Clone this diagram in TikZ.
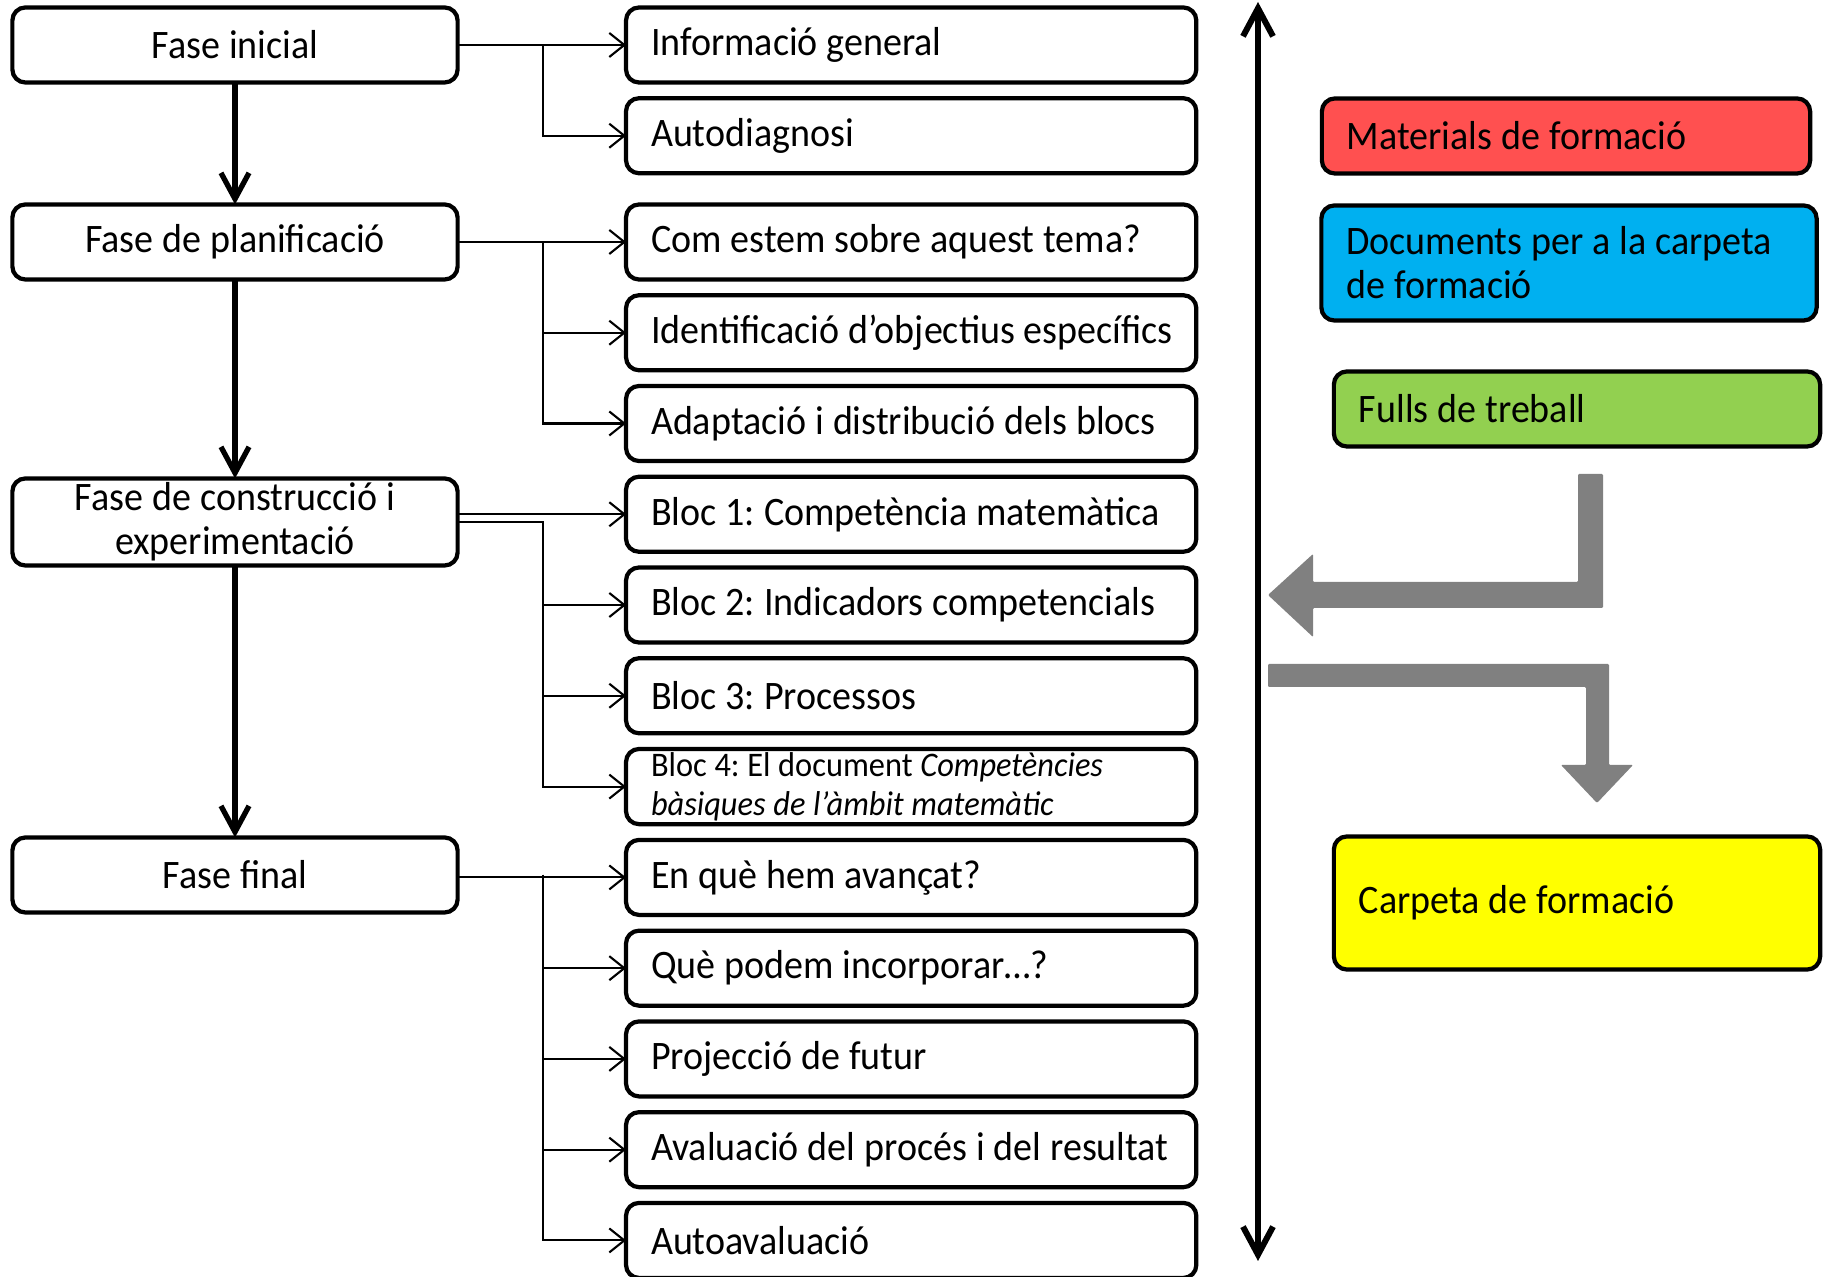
\documentclass[tikz,border=0pt]{standalone}
\usepackage{fontspec}
\setmainfont{Carlito}[FakeStretch=0.94, WordSpace=1.05]
\usepackage{tikz}
\usetikzlibrary{positioning, arrows.meta}
\definecolor{matred}{HTML}{FF5050}
\definecolor{docblue}{HTML}{00B0F0}
\definecolor{fullgreen}{HTML}{92D050}
\definecolor{carpyellow}{HTML}{FFFF00}
\definecolor{flowgrey}{HTML}{808080}
\frenchspacing
\tikzset{
  phase/.style={rectangle, rounded corners=1.3mm, draw, line width=1.2pt, outer sep=0pt, minimum width=4.45cm, minimum height=0.75cm, align=center, inner sep=1pt},
  task/.style={rectangle, rounded corners=1.3mm, draw, line width=1.2pt, outer sep=0pt, text width=5.2cm, inner xsep=0.25cm, inner ysep=1pt, minimum height=0.75cm, align=flush left},
  resource/.style={rectangle, rounded corners=1.3mm, draw, line width=1.2pt, outer sep=0pt, inner xsep=0.25cm, align=flush left},
  link/.style={-{Straight Barb[length=1.5mm, width=2.4mm]}, line width=0.6pt},
  flow/.style={-{Straight Barb[length=2.6mm, width=2.8mm]}, line width=1.5pt},
}

\begin{document}
\begin{tikzpicture}[x=0.01cm, y=-0.01cm, node distance=1.57mm, font=\fontsize{11.5}{12.5}\selectfont]
  \useasboundingbox (0,0) rectangle (1827,1277);

  % Phases
  \node[phase] (init) at (235,45) {Fase inicial};
  \node[phase] (plan) at (235,242) {Fase de planificació};
  \node[phase, minimum height=0.87cm] (constr) at (235,522) {Fase de construcció i\\experimentació};
  \node[phase] (final) at (235,875) {Fase final};

  % Tasks
  \node[task, anchor=west] (info) at (626,45) {Informació general};
  \node[task, below=of info] (autod) {Autodiagnosi};
  \node[task, anchor=west] (com) at (626,242) {Com estem sobre aquest tema?};
  \node[task, below=of com] (ident) {\mbox{Identificació d’objectius específics}};
  \node[task, below=of ident] (adapt) {Adaptació i distribució dels blocs};
  \node[task, below=of adapt] (bloc1) {Bloc 1: Competència matemàtica};
  \node[task, below=of bloc1] (bloc2) {Bloc 2: Indicadors competencials};
  \node[task, below=of bloc2] (bloc3) {Bloc 3: Processos};
  \node[task, below=of bloc3, font=\fontsize{9.8}{11}\selectfont] (bloc4) {Bloc 4: El document \textit{Competències}\\\textit{bàsiques de l’àmbit matemàtic}};
  \node[task, below=of bloc4] (enque) {En què hem avançat?};
  \node[task, below=of enque] (quepod) {Què podem incorporar…?};
  \node[task, below=of quepod] (proj) {Projecció de futur};
  \node[task, below=of proj] (aval) {\mbox{Avaluació del procés i del resultat}};
  \node[task, below=of aval] (autoav) {Autoavaluació};

  % Resources
  \node[resource, fill=matred, text width=4.38cm, minimum height=0.75cm] (mat) at (1566,136) {Materials de formació};
  \node[resource, fill=docblue, text width=4.45cm, minimum height=1.15cm] (docs) at (1569,263) {Documents per a la carpeta\\de formació};
  \node[resource, fill=fullgreen, text width=4.36cm, minimum height=0.75cm] (fulls) at (1577,409) {Fulls de treball};
  \node[resource, fill=carpyellow, text width=4.36cm, minimum height=1.33cm] (carp) at (1577,903) {Carpeta de formació};

  % Phase to phase
  \draw[flow] (init) -- (plan);
  \draw[flow] (plan) -- (constr);
  \draw[flow] (constr) -- (final);

  % Phases to tasks
  \coordinate (br) at (543,0);
  \draw[link] (init.east) -- (init.east -| info.west);
  \draw[link] (init.east -| br) |- (autod.west);
  \draw[link] (plan.east) -- (plan.east -| com.west);
  \draw[link] (plan.east -| br) |- (ident.west);
  \draw[link] (plan.east -| br) |- (adapt.west);
  \draw[link] (constr.east |- bloc1.west) -- (bloc1.west);
  \draw[link] (constr.east) -- (constr.east -| br) |- (bloc2.west);
  \draw[link] (constr.east -| br) |- (bloc3.west);
  \draw[link] (constr.east -| br) |- (bloc4.west);
  \draw[link] (final.east |- enque.west) -- (enque.west);
  \draw[link] (final.east -| br) |- (quepod.west);
  \draw[link] (final.east -| br) |- (proj.west);
  \draw[link] (final.east -| br) |- (aval.west);
  \draw[link] (final.east -| br) |- (autoav.west);

  % Time axis
  \coordinate (ttop) at (1258,2);
  \coordinate (tbot) at (1258,1261);
  \draw[{Straight Barb[length=2.8mm, width=3mm]}-{Straight Barb[length=2.8mm, width=3mm]}, line width=1.7pt] (ttop) -- (tbot);

  % Grey exchange arrows
  \fill[flowgrey, rounded corners=0.3pt] (1603,474) -- (1603,608) -- (1313,608) -- (1313,637) -- (1268,595) -- (1313,554) -- (1313,582) -- (1578,582) -- (1578,474) -- cycle;
  \fill[flowgrey, rounded corners=0.3pt] (1268,664) -- (1609,664) -- (1609,765) -- (1633,765) -- (1597,803) -- (1561,765) -- (1586,765) -- (1586,687) -- (1268,687) -- cycle;

\end{tikzpicture}
\end{document}
